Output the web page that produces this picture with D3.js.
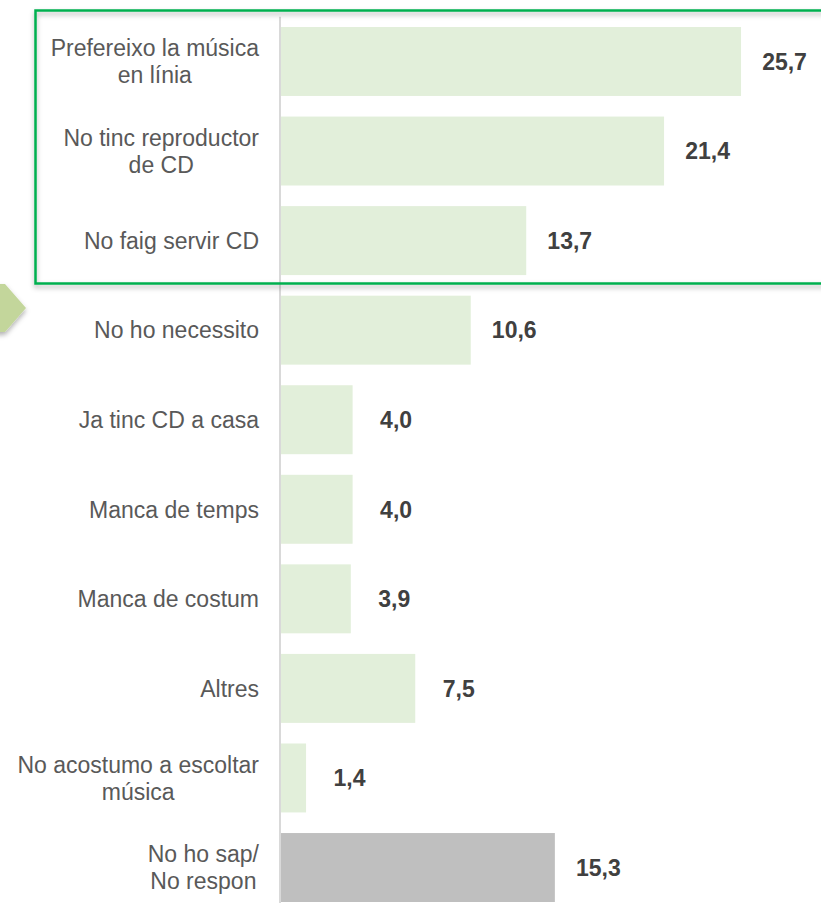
<!DOCTYPE html>
<html>
<head>
<meta charset="utf-8">
<script src="https://cdn.jsdelivr.net/npm/d3@7"></script>
<style>
  html, body { margin: 0; padding: 0; background: #fff; }
  svg { display: block; }
</style>
</head>
<body>
<svg id="chart" width="821" height="903"></svg>
<script>
const categories = [
  "Prefereixo la música\nen línia",
  "No tinc reproductor\nde CD",
  "No faig servir CD",
  "No ho necessito",
  "Ja tinc CD a casa",
  "Manca de temps",
  "Manca de costum",
  "Altres",
  "No acostumo a escoltar\nmúsica",
  "No ho sap/\nNo respon"
];
const values = [25.7, 21.4, 13.7, 10.6, 4.0, 4.0, 3.9, 7.5, 1.4, 15.3];
const highlighted = ["No ho sap/\nNo respon"];

const W = 821, H = 903;
const svg = d3.select("#chart");
const FONT = "'Liberation Sans', Arial, sans-serif";

const defs = svg.append("defs");
const f = defs.append("filter").attr("id", "shadow").attr("x", "-10%").attr("y", "-10%").attr("width", "120%").attr("height", "130%");
f.append("feDropShadow").attr("dx", 0).attr("dy", 3).attr("stdDeviation", 2.5)
  .attr("flood-color", "#000").attr("flood-opacity", 0.3);

const x = d3.scaleLinear().domain([0, 30]).range([281, 281 + 30 * 17.9]);
const step = 89.56;
const y = d3.scaleBand().domain(categories)
  .range([27 - step * 0.115, 27 - step * 0.115 + step * 10])
  .paddingInner(0.23).paddingOuter(0.115);

const locale = d3.formatLocale({ decimal: ",", thousands: ".", grouping: [3], currency: ["", "€"] });
const fmt = locale.format(".1f");

// bars
svg.append("g").selectAll("rect").data(categories).join("rect")
  .attr("x", x(0))
  .attr("y", d => y(d))
  .attr("width", (d, i) => x(values[i]) - x(0))
  .attr("height", y.bandwidth())
  .attr("fill", d => highlighted.includes(d) ? "#bfbfbf" : "#e2efda");

// axis line
const axis = svg.append("g").attr("transform", "translate(280,0)")
  .call(d3.axisLeft(y).tickSize(0).tickFormat(""));
axis.select(".domain").attr("stroke", "#d9d9d9").attr("stroke-width", 2)
  .attr("d", `M0,${y.range()[0]}V${H + 10}`);

// value labels
svg.append("g").selectAll("text").data(categories).join("text")
  .attr("x", (d, i) => x(values[i]) + 43.5)
  .attr("y", d => y(d) + y.bandwidth() / 2 + 8.3)
  .attr("text-anchor", "middle")
  .attr("font-family", FONT)
  .attr("font-size", 23)
  .attr("font-weight", "bold")
  .attr("fill", "#404040")
  .text((d, i) => fmt(values[i]));

// category labels (multi-line, centered block, right-aligned)
const labelRight = 259;
const lineH = 26.7;
const lg = svg.append("g");
categories.forEach(c => {
  const lines = c.split("\n");
  const cy = y(c) + y.bandwidth() / 2;
  const t = lg.append("text")
    .attr("font-family", FONT)
    .attr("font-size", 23)
    .attr("fill", "#595959")
    .attr("text-anchor", "middle");
  const spans = lines.map((ln, k) => t.append("tspan")
    .attr("y", cy + 8.3 + (k - (lines.length - 1) / 2) * lineH)
    .text(ln));
  const maxW = d3.max(spans, s => s.node().getComputedTextLength());
  spans.forEach(s => s.attr("x", labelRight - maxW / 2));
});

// highlight frame
svg.append("rect")
  .attr("x", 35.5).attr("y", 10.5)
  .attr("width", 820).attr("height", 273)
  .attr("fill", "none")
  .attr("stroke", "#00b050")
  .attr("stroke-width", 2.5)
  .attr("filter", "url(#shadow)");

// arrow marker
svg.append("path")
  .attr("d", "M-20,284 L5,284 L26,308 L5,332 L-20,332 Z")
  .attr("fill", "#c3d69b")
  .attr("filter", "url(#shadow)");
</script>
</body>
</html>
